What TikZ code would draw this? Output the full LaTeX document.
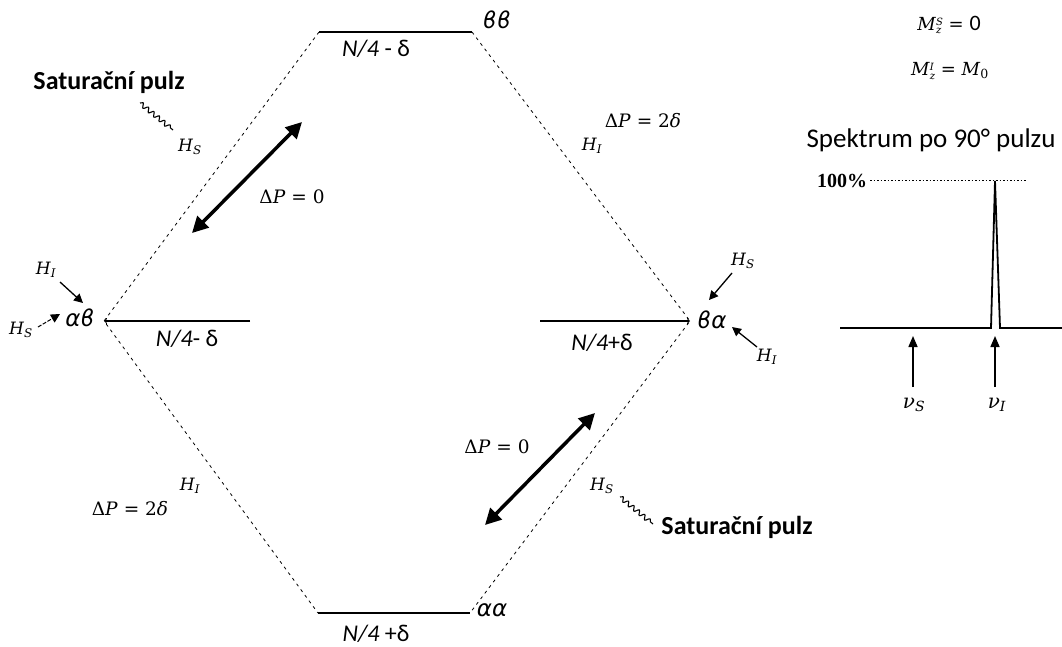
\RequirePackage{fix-cm}
\documentclass[tikz,border=0pt]{standalone}
\usepackage{fontspec}
\setmainfont{Carlito}
\newfontfamily\greekfont{DejaVu Sans}
\newfontfamily\serifbold{Liberation Serif}
\newfontfamily\mfont{DejaVu Serif}
\newcommand\msb[2]{\textit{#1}\textsubscript{\textit{#2}}}
\newcommand\mzs[1]{\textit{M}\raisebox{-0.2em}{\fontsize{10}{11}\selectfont\shortstack[l]{\textit{#1}\\\textit{z}}}}
\usetikzlibrary{arrows.meta,decorations.pathmorphing}
\begin{document}
\begin{tikzpicture}[x=1pt,y=-1pt,
  lvl/.style={line width=2.4pt},
  conn/.style={dash pattern=on 3pt off 4pt, line width=0.8pt},
  lab/.style={font=\fontsize{24}{26}\selectfont},
  mlab/.style={font=\fontsize{18.5}{20}\selectfont\mfont},
  hlab/.style={font=\fontsize{17}{19}\selectfont\mfont},
  statelab/.style={font=\fontsize{23}{25}\selectfont\greekfont\itshape},
  sat/.style={font=\fontsize{26}{28}\selectfont\bfseries},
  bigarrow/.style={line width=3.5pt,{Triangle[length=16pt,width=16pt]}-{Triangle[length=16pt,width=16pt]}},
  smallarrow/.style={line width=1.3pt,-{Triangle[length=9pt,width=9pt]}},
  pulse/.style={decorate,decoration={snake,amplitude=2.2pt,segment length=7pt},line width=1.1pt},
  specarrow/.style={line width=1.6pt,-{Triangle[length=11pt,width=9pt]}},
]
\useasboundingbox (0,0) rectangle (1062,646);
% level endpoints
\coordinate (bbL) at (319,32);
\coordinate (bbR) at (472,32);
\coordinate (abL) at (104,321);
\coordinate (abR) at (250,321);
\coordinate (baL) at (540,321);
\coordinate (baR) at (690,321);
\coordinate (aaL) at (318,613);
\coordinate (aaR) at (470,613);
% dashed connectors
\draw[conn] (bbL) -- (abL) -- (aaL);
\draw[conn] (bbR) -- (baR) -- (aaR);
% levels
\draw[lvl] (bbL) -- (bbR);
\draw[lvl] (aaL) -- (aaR);
\draw[lvl,-{To[length=3pt,width=6pt,line width=0.8pt]}] (abR) -- (abL);
\draw[lvl,-{To[length=3pt,width=6pt,line width=0.8pt]}] (baL) -- (baR);
% state labels
\node[statelab] (bb) at (497,20) {ϐϐ};
\node[statelab] (ab) at (80,318) {αϐ};
\node[statelab] (ba) at (712,320) {ϐα};
\node[statelab] (aa) at (492,610) {αα};
% energy labels
\node[lab] (e1) at (376,49) {\textit{N/4} - δ};
\node[lab] (e2) at (187,339) {\textit{N/4}- δ};
\node[lab] (e3) at (602,343) {\textit{N/4}+δ};
\node[lab] (e4) at (376,634) {\textit{N/4} +δ};
% thick double arrows
\coordinate (u1) at (302,122);
\coordinate (u2) at (192,233);
\coordinate (l1) at (595,413);
\coordinate (l2) at (485,525);
\draw[bigarrow] (u2) -- (u1);
\draw[bigarrow] (l2) -- (l1);
\node[mlab] (dp1) at (292,197) {Δ\textit{P} = 0};
\node[mlab] (dp2) at (497,447) {Δ\textit{P} = 0};
\node[mlab] (dp3) at (643,121) {Δ\textit{P} = 2\textit{δ}};
\node[hlab] (hi3) at (592,146) {\msb{H}{I}};
\node[mlab] (dp4) at (130,509) {Δ\textit{P} = 2\textit{δ}};
\node[hlab] (hi4) at (190,486) {\msb{H}{I}};
% saturation pulses
\node[sat] (sat1) at (109,82) {Saturační pulz};
\node[hlab] (hs1) at (190,147) {\msb{H}{S}};
\coordinate (w1a) at (140,103);
\coordinate (w1b) at (173,130);
\draw[pulse] (w1a) -- (w1b);
\node[sat] (sat2) at (737,527) {Saturační pulz};
\node[hlab] (hs2) at (602,486) {\msb{H}{S}};
\coordinate (w2a) at (620,497);
\coordinate (w2b) at (653,524);
\draw[pulse] (w2a) -- (w2b);
% small arrows at alpha beta
\node[hlab] (hiab) at (46,270) {\msb{H}{I}};
\coordinate (hiabA) at (60,282);
\coordinate (hiabB) at (83,303);
\draw[smallarrow] (hiabA) -- (hiabB);
\node[hlab] (hsab) at (21,330) {\msb{H}{S}};
\coordinate (hsabA) at (38,327);
\coordinate (hsabB) at (60,314);
\draw[smallarrow,line width=1pt,dash pattern=on 4pt off 1.5pt] (hsabA) -- (hsabB);
% small arrows at beta alpha
\node[hlab] (hsba) at (743,261) {\msb{H}{S}};
\coordinate (hsbaA) at (732,273);
\coordinate (hsbaB) at (709,300);
\draw[smallarrow] (hsbaA) -- (hsbaB);
\node[hlab] (hiba) at (767,357) {\msb{H}{I}};
\coordinate (hibaA) at (757,347);
\coordinate (hibaB) at (732,327);
\draw[smallarrow] (hibaA) -- (hibaB);
% right panel
\node[font=\fontsize{18}{20}\selectfont\mfont] (ms) at (949,25) {\mzs{S} = {\fontsize{22}{23}\selectfont\normalfont 0}};
\node[font=\fontsize{18}{20}\selectfont\mfont] (mi) at (950,71) {\mzs{I} = \textit{M}\textsubscript{0}};
\node[font=\fontsize{27}{29}\selectfont] (spec) at (931,140) {Spektrum po 90° pulzu};
\node[font=\fontsize{20}{22}\selectfont\serifbold\bfseries] (pct) at (842,181) {100\%};
\coordinate (dotA) at (870,180);
\coordinate (dotB) at (1027,180);
\draw[line width=0.8pt,dash pattern=on 1.5pt off 2pt] (dotA) -- (dotB);
\coordinate (b0) at (840,328);
\coordinate (b1) at (991,328);
\coordinate (pk) at (995,181);
\coordinate (b2) at (1000,328);
\coordinate (b3) at (1062,328);
\draw[line width=1.8pt,line join=miter] (b0) -- (b1) -- (pk) -- (b2) -- (b3);
\coordinate (nsA) at (913,387);
\coordinate (nsB) at (913,336);
\coordinate (niA) at (995,387);
\coordinate (niB) at (995,336);
\draw[specarrow] (nsA) -- (nsB);
\draw[specarrow] (niA) -- (niB);
\node[font=\fontsize{20}{22}\selectfont\mfont] (nus) at (914,405) {\msb{ν}{S}};
\node[font=\fontsize{20}{22}\selectfont\mfont] (nui) at (997,405) {\msb{ν}{I}};
\end{tikzpicture}
\end{document}
